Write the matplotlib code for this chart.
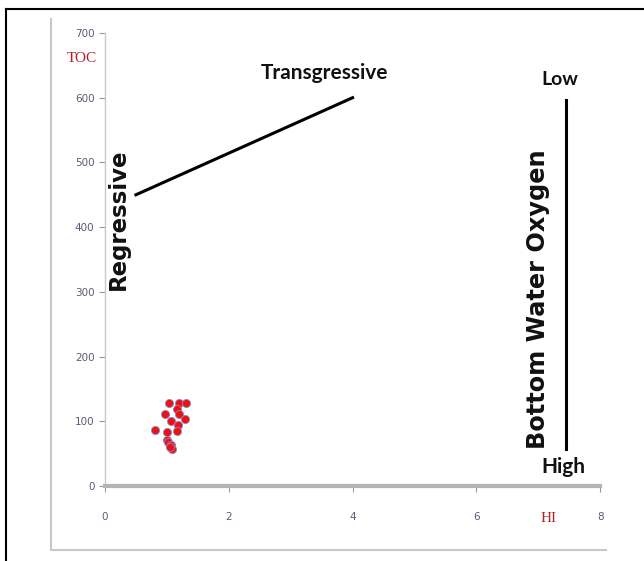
import matplotlib.pyplot as plt
from matplotlib.lines import Line2D

# HI vs TOC samples
hi = [1.04, 1.19, 1.31, 1.17, 0.97, 1.20, 1.29, 1.07, 1.18, 0.81,
      1.00, 1.17, 1.00, 1.02, 1.06, 1.08, 1.05]
toc = [128, 129, 128, 119, 111, 111, 104, 101, 94, 87,
       83, 85, 71, 68, 63, 57, 61]

trend_x = [0.5, 4.0]
trend_y = [450, 600]
oxygen_x = [7.45, 7.45]
oxygen_y = [596, 57]

x_ticks = [0, 2, 4, 6, 8]
y_ticks = [0, 100, 200, 300, 400, 500, 600, 700]

fig = plt.figure(figsize=(6.44, 5.61), dpi=100)
ax = fig.add_axes([0.163, 0.1337, 0.769, 0.8075])

ax.scatter(hi, toc, s=34, c='#ee1111', edgecolors='#8888cc', linewidths=0.6, zorder=3)
ax.plot(trend_x, trend_y, color='black', lw=2.2)
ax.plot(oxygen_x, oxygen_y, color='black', lw=2.2)

ax.set_xlim(0, 8)
ax.set_ylim(0, 700)
ax.set_xticks(x_ticks)
ax.set_yticks(y_ticks)
for s in ['top', 'right']:
    ax.spines[s].set_visible(False)
ax.spines['bottom'].set_color('#b5b5b5')
ax.spines['bottom'].set_linewidth(3)
ax.spines['left'].set_color('#c8c8c8')
ax.spines['left'].set_linewidth(1)
ax.tick_params(axis='both', colors='#999999', labelcolor='#5a5a78', labelsize=7.5, length=4, width=0.8)
ax.tick_params(axis='x', pad=15)

bold = dict(fontweight='bold', color='#111111')
ax.text(3.55, 638, 'Transgressive', ha='center', va='center', fontsize=15, family='Lato', **bold)
ax.text(0.21, 412, 'Regressive', ha='center', va='center', rotation=90, fontsize=16.5, family='DejaVu Sans', **bold)
ax.text(7.0, 288, 'Bottom Water Oxygen', ha='center', va='center', rotation=90, fontsize=17.3, family='DejaVu Sans', **bold)
ax.text(7.35, 628, 'Low', ha='center', va='center', fontsize=14, family='Lato', **bold)
ax.text(7.4, 29, 'High', ha='center', va='center', fontsize=15, family='Lato', **bold)
ax.text(-0.37, 661, 'TOC', ha='center', va='center', fontsize=11, family='Liberation Serif', color='#b22222', clip_on=False)
ax.text(7.16, -51, 'HI', ha='center', va='center', fontsize=11, family='Liberation Serif', color='#b22222', clip_on=False)

# picture frame
fig.add_artist(Line2D([0.0093, 1.0], [0.984, 0.984], color='black', lw=1.5))
fig.add_artist(Line2D([0.0093, 0.0093], [0.0, 0.984], color='black', lw=1.5))
fig.add_artist(Line2D([0.079, 0.079], [0.0196, 0.966], color='#c8c8c8', lw=1.5))
fig.add_artist(Line2D([0.079, 0.941], [0.0196, 0.0196], color='#c8c8c8', lw=1.5))

fig.savefig('out.png', dpi=100)
